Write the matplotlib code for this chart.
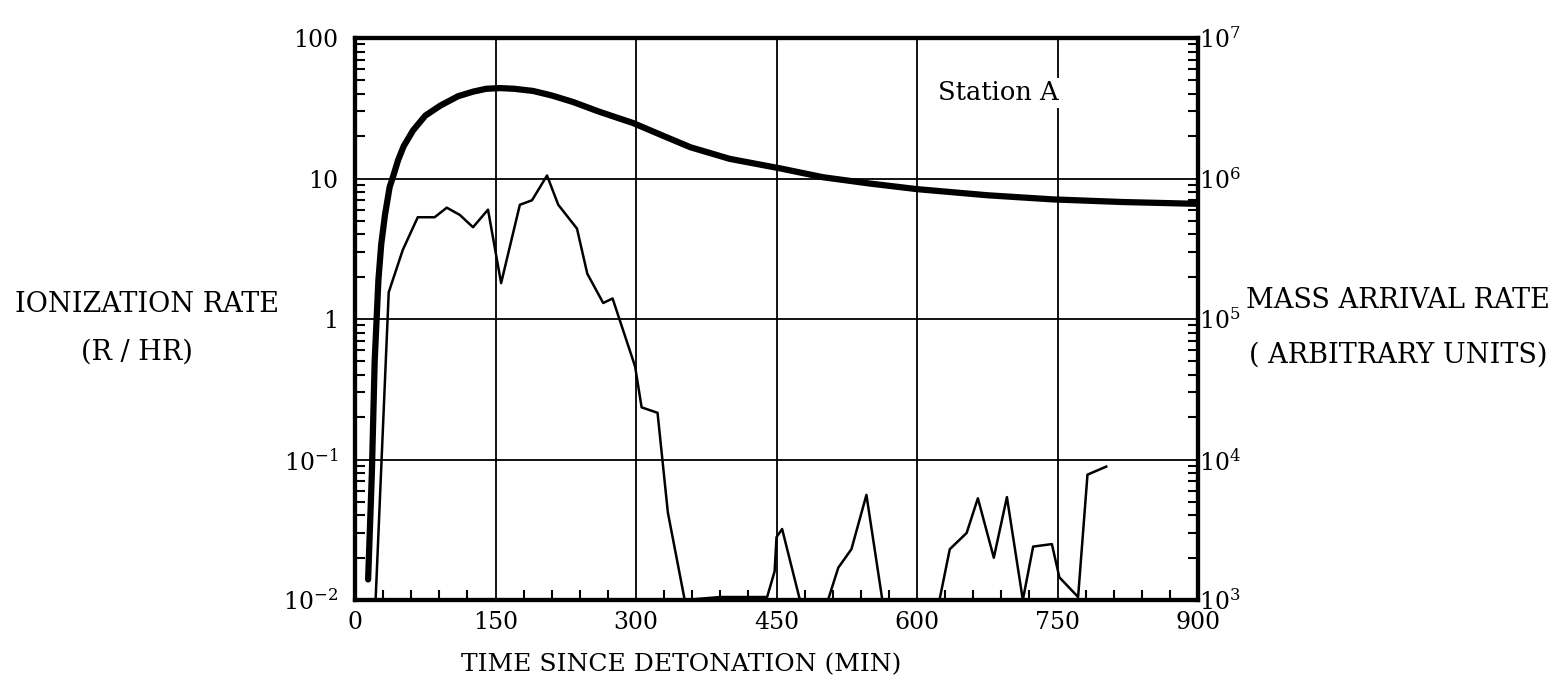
import matplotlib
matplotlib.use('Agg')
import matplotlib.pyplot as plt
from matplotlib.ticker import LogLocator, MultipleLocator, NullFormatter

plt.rcParams['font.family'] = 'DejaVu Serif'
plt.rcParams['mathtext.fontset'] = 'dejavuserif'

# ionization rate (R/HR) at station A, thin trace
ion_t = [22, 36, 51, 67, 85, 98, 112, 126, 142, 156, 176, 189, 205, 217, 237,
         248, 265, 275, 299, 306, 323, 334, 352, 390, 440, 448, 450, 456, 475,
         505, 516, 530, 546, 563, 624, 635, 653, 665, 682, 696, 713, 724, 744,
         752, 772, 782, 802]
ion_rate = [0.01, 1.55, 3.1, 5.3, 5.3, 6.2, 5.5, 4.5, 6.0, 1.8, 6.5, 7.0, 10.5,
            6.5, 4.4, 2.1, 1.3, 1.4, 0.46, 0.235, 0.215, 0.042, 0.01, 0.0105,
            0.0105, 0.016, 0.028, 0.032, 0.01, 0.01, 0.017, 0.023, 0.056, 0.01,
            0.01, 0.023, 0.030, 0.053, 0.020, 0.054, 0.01, 0.024, 0.025, 0.0145,
            0.0105, 0.078, 0.089]

# mass arrival rate (arbitrary units), heavy curve on the right scale
mass_t = [14, 18, 21, 25, 28, 32, 37, 41, 46, 52, 62, 75, 91, 110, 126, 140,
          155, 170, 190, 210, 233, 260, 297, 330, 358, 400, 454, 500, 550, 600,
          675, 745, 820, 900]
mass_rate = [1.4e3, 8.0e3, 5.0e4, 1.9e5, 3.4e5, 5.5e5, 8.7e5, 1.05e6, 1.35e6,
             1.7e6, 2.2e6, 2.8e6, 3.3e6, 3.85e6, 4.15e6, 4.35e6, 4.4e6, 4.35e6,
             4.2e6, 3.9e6, 3.5e6, 3.0e6, 2.48e6, 2.0e6, 1.67e6, 1.38e6, 1.18e6,
             1.02e6, 9.2e5, 8.4e5, 7.6e5, 7.1e5, 6.8e5, 6.6e5]

x_ticks = [0, 150, 300, 450, 600, 750, 900]
left_ticks = [1e-2, 1e-1, 1, 10, 100]
left_labels = [r'$10^{-2}$', r'$10^{-1}$', '1', '10', '100']
right_ticks = [1e3, 1e4, 1e5, 1e6, 1e7]
right_labels = [r'$10^{3}$', r'$10^{4}$', r'$10^{5}$', r'$10^{6}$', r'$10^{7}$']

fig = plt.figure(figsize=(15.67, 6.8), dpi=100)
ax = fig.add_axes([355 / 1567, 80 / 680, 843 / 1567, 562 / 680])

ax.set_xlim(0, 900)
ax.set_yscale('log')
ax.set_ylim(0.01, 100)
ax.set_xticks(x_ticks)
ax.set_xticklabels([str(v) for v in x_ticks], fontsize=17)
ax.set_yticks(left_ticks)
ax.set_yticklabels(left_labels, fontsize=17)
ax.xaxis.set_minor_locator(MultipleLocator(30))
ax.yaxis.set_minor_locator(LogLocator(base=10, subs=range(2, 10)))
ax.yaxis.set_minor_formatter(NullFormatter())
ax.tick_params(which='major', length=0)
ax.tick_params(axis='x', which='major', pad=8)
ax.tick_params(axis='y', which='major', pad=12)
ax.tick_params(which='minor', direction='in', length=7, width=1.5)
ax.grid(True, which='major', color='black', linewidth=1.3)

ax.plot(ion_t, ion_rate, color='black', linewidth=1.8, clip_on=False)

ax2 = ax.twinx()
ax2.set_yscale('log')
ax2.set_ylim(1e3, 1e7)
ax2.set_yticks(right_ticks)
ax2.set_yticklabels(right_labels, fontsize=17)
ax2.yaxis.set_minor_locator(LogLocator(base=10, subs=range(2, 10)))
ax2.yaxis.set_minor_formatter(NullFormatter())
ax2.tick_params(which='major', length=0, pad=1)
ax2.tick_params(which='minor', direction='in', length=7, width=1.5)

ax2.plot(mass_t, mass_rate, color='black', linewidth=4.5,
         solid_capstyle='round', solid_joinstyle='round')

for a in (ax, ax2):
    for s in a.spines.values():
        s.set_linewidth(3)

fig.text(147 / 1567, 1 - 304 / 680, 'IONIZATION RATE', ha='center', va='center', fontsize=19.5)
fig.text(137 / 1567, 1 - 352 / 680, '(R / HR)', ha='center', va='center', fontsize=19.5)
fig.text(1398 / 1567, 1 - 300 / 680, 'MASS ARRIVAL RATE', ha='center', va='center', fontsize=19.5)
fig.text(1398 / 1567, 1 - 355 / 680, '( ARBITRARY UNITS)', ha='center', va='center', fontsize=19.5)
fig.text(681 / 1567, 1 - 665 / 680, 'TIME SINCE DETONATION (MIN)', ha='center', va='center', fontsize=18)
# white box so the 750 grid line breaks behind the station name
fig.text(938 / 1567, 1 - 93 / 680, 'Station A', ha='left', va='center', fontsize=18.5,
         bbox=dict(facecolor='white', edgecolor='none', pad=2), zorder=5)

fig.savefig('out.png', dpi=100)
